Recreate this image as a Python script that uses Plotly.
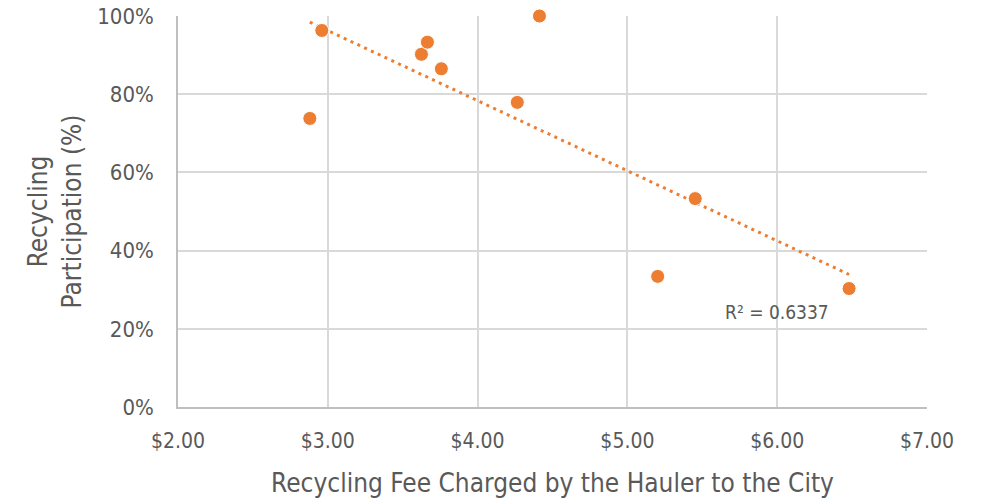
import numpy as np
import plotly.graph_objects as go

fee = [2.88, 2.96, 3.625, 3.665, 3.758, 4.265, 4.413, 5.202, 5.453, 6.48]
participation = [73.8, 96.3, 90.2, 93.3, 86.5, 77.9, 100.0, 33.4, 53.3, 30.3]
x_ticks = [2, 3, 4, 5, 6, 7]
x_tick_labels = ["$2.00", "$3.00", "$4.00", "$5.00", "$6.00", "$7.00"]
y_ticks = [0, 20, 40, 60, 80, 100]
y_tick_labels = ["0%", "20%", "40%", "60%", "80%", "100%"]
r2_label = "R² = 0.6337"

orange = "#ED7D31"
grid = "#D9D9D9"
txt = "#595959"
font_family = "DejaVu Sans Condensed, Open Sans, sans-serif"

xs = np.array(fee)
ys = np.array(participation)
m, b = np.polyfit(xs, ys, 1)
tx = np.array([xs.min(), xs.max()])
ty = m * tx + b

fig = go.Figure()
fig.add_trace(go.Scatter(x=tx, y=ty, mode="lines",
                         line=dict(color=orange, width=3, dash="3px,4.5px"),
                         showlegend=False, hoverinfo="skip"))
fig.add_trace(go.Scatter(x=fee, y=participation, mode="markers",
                         marker=dict(color=orange, size=14, line=dict(color="white", width=1)),
                         showlegend=False, cliponaxis=False))

fig.add_annotation(x=6.0, y=24.4, text=r2_label, showarrow=False,
                   font=dict(size=19, color=txt, family=font_family))

fig.update_layout(
    width=987, height=503,
    margin=dict(l=178, r=60, t=16, b=96, autoexpand=False),
    paper_bgcolor="white", plot_bgcolor="white",
    font=dict(family=font_family, color=txt),
    xaxis=dict(range=[2, 7], tickvals=x_ticks, ticktext=x_tick_labels,
               showgrid=True, gridcolor=grid, gridwidth=1.5,
               showline=True, linecolor="#BFBFBF", linewidth=1.5,
               zeroline=False, tickfont=dict(size=21, color=txt),
               ticks="outside", ticklen=14, tickcolor="rgba(0,0,0,0)",
               automargin=False, ticklabeloverflow="allow",
               title=dict(text="Recycling Fee Charged by the Hauler to the City",
                          font=dict(size=26, color=txt), standoff=22)),
    yaxis=dict(range=[0, 100], tickvals=y_ticks, ticktext=y_tick_labels,
               showgrid=True, gridcolor=grid, gridwidth=1.5,
               showline=True, linecolor="#BFBFBF", linewidth=1.5,
               zeroline=False, tickfont=dict(size=22, color=txt),
               ticks="outside", ticklen=18, tickcolor="rgba(0,0,0,0)",
               automargin=False, ticklabeloverflow="allow",
               title=dict(text="Recycling<br>Participation (%)",
                          font=dict(size=26, color=txt), standoff=8)),
)

fig.write_html("out.html", config={"displayModeBar": False},
               post_script="document.body.style.margin='0';")
